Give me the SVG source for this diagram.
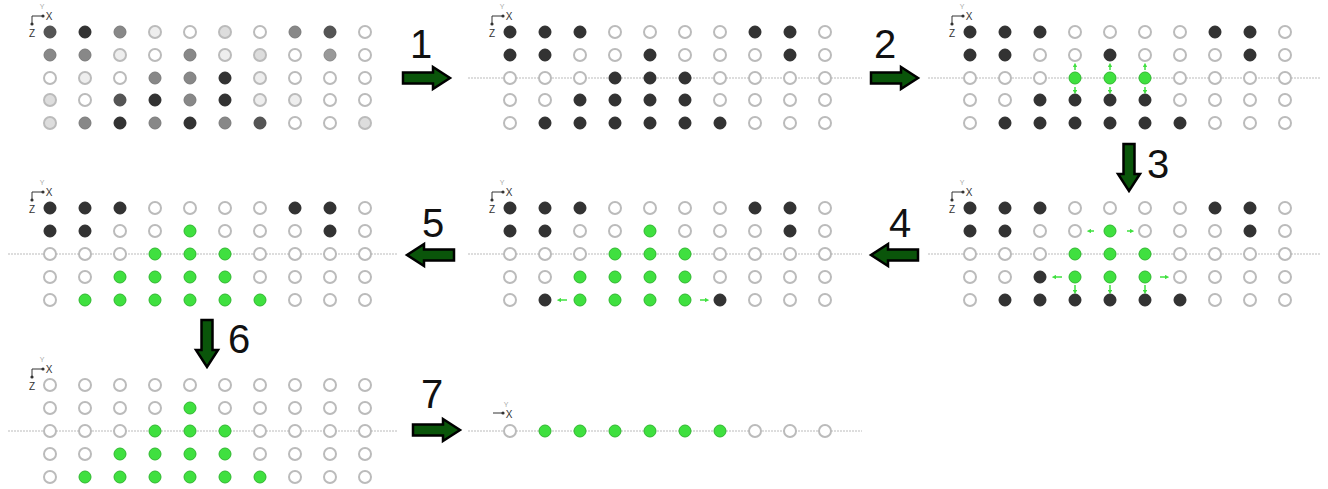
<svg xmlns="http://www.w3.org/2000/svg" width="1328" height="489" viewBox="0 0 1328 489">
<style>
circle{stroke-width:2}
.e{fill:#fff;stroke:#bbb}
.k{fill:#333;stroke:#2a2a2a;stroke-width:1}
.g{fill:#3fe03f;stroke:#2fb82f;stroke-width:1}
.s5{fill:#555;stroke:#4a4a4a;stroke-width:1}
.s8{fill:#888;stroke:#7a7a7a;stroke-width:1}
.s9{fill:#999;stroke:#888;stroke-width:1}
.sd{fill:#ddd;stroke:#bbb}
.se{fill:#eee;stroke:#bbb}
.axis{stroke:#333;stroke-width:1;fill:none}
.ax{font-family:"Liberation Sans",Arial,sans-serif;font-size:10px;fill:#333;text-anchor:middle}
.ay{font-family:"Liberation Sans",Arial,sans-serif;font-size:7px;fill:#aaa;text-anchor:middle}
.dot{fill:#333;stroke:none}
.guide{stroke:#bbb;stroke-width:1;stroke-dasharray:2 1}
.num{font-family:"Liberation Sans",Arial,sans-serif;font-size:40px;fill:#111;text-anchor:middle}
.big{fill:#0a550a;stroke:#000;stroke-width:2.5;stroke-linejoin:miter}
.sm{stroke:#3fe03f;stroke-width:1.5;fill:none;marker-end:url(#sa)}
</style>
<defs>
<marker id="sa" viewBox="0 0 6 6" refX="3" refY="3" markerWidth="3" markerHeight="3" orient="auto"><path d="M0,0 L6,3 L0,6 Z" fill="#3fe03f"/></marker>
<path id="bigArrow" d="M-23,-5.5 L7,-5.5 L7,-11 L24,0 L7,11 L7,5.5 L-23,5.5 Z"/>
<g id="axes">
<path class="axis" d="M-18,-8 V-16 H-7"/>
<circle class="dot" cx="-18" cy="-8" r="1.6"/>
<circle class="dot" cx="-7" cy="-16" r="1.6"/>
<text class="ax" x="-1" y="-12">X</text>
<text class="ax" x="-18" y="5">Z</text>
<text class="ay" x="-8" y="-23">Y</text>
</g>
</defs>
<rect width="1328" height="489" fill="#fff"/>

<g id="connectors">
<use href="#bigArrow" class="big" transform="translate(426,78)"/>
<text class="num" x="421" y="58">1</text>
<use href="#bigArrow" class="big" transform="translate(894,78)"/>
<text class="num" x="885" y="58">2</text>
<use href="#bigArrow" class="big" transform="translate(1129,167) rotate(90)"/>
<text class="num" x="1158" y="178">3</text>
<use href="#bigArrow" class="big" transform="translate(895,255) rotate(180)"/>
<text class="num" x="900" y="237">4</text>
<use href="#bigArrow" class="big" transform="translate(431,255) rotate(180)"/>
<text class="num" x="433" y="237">5</text>
<use href="#bigArrow" class="big" transform="translate(207,343) rotate(90)"/>
<text class="num" x="239" y="353">6</text>
<use href="#bigArrow" class="big" transform="translate(436,430)"/>
<text class="num" x="432" y="408">7</text>
</g>

<g id="panel1">
<use href="#axes" transform="translate(50,32)"/>
<g transform="translate(50,32)">
<circle class="s5" cx="0" cy="0" r="6"/><circle class="k" cx="35" cy="0" r="6"/><circle class="s8" cx="70" cy="0" r="6"/><circle class="se" cx="105" cy="0" r="6"/><circle class="e" cx="140" cy="0" r="6"/><circle class="sd" cx="175" cy="0" r="6"/><circle class="e" cx="210" cy="0" r="6"/><circle class="s8" cx="245" cy="0" r="6"/><circle class="s5" cx="280" cy="0" r="6"/><circle class="e" cx="315" cy="0" r="6"/>
<circle class="s8" cx="0" cy="23" r="6"/><circle class="s8" cx="35" cy="23" r="6"/><circle class="se" cx="70" cy="23" r="6"/><circle class="e" cx="105" cy="23" r="6"/><circle class="s8" cx="140" cy="23" r="6"/><circle class="se" cx="175" cy="23" r="6"/><circle class="sd" cx="210" cy="23" r="6"/><circle class="e" cx="245" cy="23" r="6"/><circle class="s9" cx="280" cy="23" r="6"/><circle class="e" cx="315" cy="23" r="6"/>
<circle class="e" cx="0" cy="46" r="6"/><circle class="se" cx="35" cy="46" r="6"/><circle class="e" cx="70" cy="46" r="6"/><circle class="s8" cx="105" cy="46" r="6"/><circle class="s8" cx="140" cy="46" r="6"/><circle class="k" cx="175" cy="46" r="6"/><circle class="se" cx="210" cy="46" r="6"/><circle class="e" cx="245" cy="46" r="6"/><circle class="e" cx="280" cy="46" r="6"/><circle class="e" cx="315" cy="46" r="6"/>
<circle class="sd" cx="0" cy="68" r="6"/><circle class="e" cx="35" cy="68" r="6"/><circle class="s5" cx="70" cy="68" r="6"/><circle class="k" cx="105" cy="68" r="6"/><circle class="s8" cx="140" cy="68" r="6"/><circle class="k" cx="175" cy="68" r="6"/><circle class="se" cx="210" cy="68" r="6"/><circle class="se" cx="245" cy="68" r="6"/><circle class="e" cx="280" cy="68" r="6"/><circle class="e" cx="315" cy="68" r="6"/>
<circle class="sd" cx="0" cy="91" r="6"/><circle class="s8" cx="35" cy="91" r="6"/><circle class="k" cx="70" cy="91" r="6"/><circle class="s8" cx="105" cy="91" r="6"/><circle class="k" cx="140" cy="91" r="6"/><circle class="s8" cx="175" cy="91" r="6"/><circle class="s5" cx="210" cy="91" r="6"/><circle class="e" cx="245" cy="91" r="6"/><circle class="e" cx="280" cy="91" r="6"/><circle class="sd" cx="315" cy="91" r="6"/>
</g>
</g>

<g id="panel2">
<line class="guide" x1="468" y1="78" x2="862" y2="78"/>
<use href="#axes" transform="translate(510,32)"/>
<g transform="translate(510,32)">
<circle class="k" cx="0" cy="0" r="6"/><circle class="k" cx="35" cy="0" r="6"/><circle class="k" cx="70" cy="0" r="6"/><circle class="e" cx="105" cy="0" r="6"/><circle class="e" cx="140" cy="0" r="6"/><circle class="e" cx="175" cy="0" r="6"/><circle class="e" cx="210" cy="0" r="6"/><circle class="k" cx="245" cy="0" r="6"/><circle class="k" cx="280" cy="0" r="6"/><circle class="e" cx="315" cy="0" r="6"/>
<circle class="k" cx="0" cy="23" r="6"/><circle class="k" cx="35" cy="23" r="6"/><circle class="e" cx="70" cy="23" r="6"/><circle class="e" cx="105" cy="23" r="6"/><circle class="k" cx="140" cy="23" r="6"/><circle class="e" cx="175" cy="23" r="6"/><circle class="e" cx="210" cy="23" r="6"/><circle class="e" cx="245" cy="23" r="6"/><circle class="k" cx="280" cy="23" r="6"/><circle class="e" cx="315" cy="23" r="6"/>
<circle class="e" cx="0" cy="46" r="6"/><circle class="e" cx="35" cy="46" r="6"/><circle class="e" cx="70" cy="46" r="6"/><circle class="k" cx="105" cy="46" r="6"/><circle class="k" cx="140" cy="46" r="6"/><circle class="k" cx="175" cy="46" r="6"/><circle class="e" cx="210" cy="46" r="6"/><circle class="e" cx="245" cy="46" r="6"/><circle class="e" cx="280" cy="46" r="6"/><circle class="e" cx="315" cy="46" r="6"/>
<circle class="e" cx="0" cy="68" r="6"/><circle class="e" cx="35" cy="68" r="6"/><circle class="k" cx="70" cy="68" r="6"/><circle class="k" cx="105" cy="68" r="6"/><circle class="k" cx="140" cy="68" r="6"/><circle class="k" cx="175" cy="68" r="6"/><circle class="e" cx="210" cy="68" r="6"/><circle class="e" cx="245" cy="68" r="6"/><circle class="e" cx="280" cy="68" r="6"/><circle class="e" cx="315" cy="68" r="6"/>
<circle class="e" cx="0" cy="91" r="6"/><circle class="k" cx="35" cy="91" r="6"/><circle class="k" cx="70" cy="91" r="6"/><circle class="k" cx="105" cy="91" r="6"/><circle class="k" cx="140" cy="91" r="6"/><circle class="k" cx="175" cy="91" r="6"/><circle class="k" cx="210" cy="91" r="6"/><circle class="e" cx="245" cy="91" r="6"/><circle class="e" cx="280" cy="91" r="6"/><circle class="e" cx="315" cy="91" r="6"/>
</g>
</g>

<g id="panel3">
<line class="guide" x1="928" y1="78" x2="1320" y2="78"/>
<use href="#axes" transform="translate(970,32)"/>
<g transform="translate(970,32)">
<circle class="k" cx="0" cy="0" r="6"/><circle class="k" cx="35" cy="0" r="6"/><circle class="k" cx="70" cy="0" r="6"/><circle class="e" cx="105" cy="0" r="6"/><circle class="e" cx="140" cy="0" r="6"/><circle class="e" cx="175" cy="0" r="6"/><circle class="e" cx="210" cy="0" r="6"/><circle class="k" cx="245" cy="0" r="6"/><circle class="k" cx="280" cy="0" r="6"/><circle class="e" cx="315" cy="0" r="6"/>
<circle class="k" cx="0" cy="23" r="6"/><circle class="k" cx="35" cy="23" r="6"/><circle class="e" cx="70" cy="23" r="6"/><circle class="e" cx="105" cy="23" r="6"/><circle class="k" cx="140" cy="23" r="6"/><circle class="e" cx="175" cy="23" r="6"/><circle class="e" cx="210" cy="23" r="6"/><circle class="e" cx="245" cy="23" r="6"/><circle class="k" cx="280" cy="23" r="6"/><circle class="e" cx="315" cy="23" r="6"/>
<circle class="e" cx="0" cy="46" r="6"/><circle class="e" cx="35" cy="46" r="6"/><circle class="e" cx="70" cy="46" r="6"/><circle class="g" cx="105" cy="46" r="6"/><circle class="g" cx="140" cy="46" r="6"/><circle class="g" cx="175" cy="46" r="6"/><circle class="e" cx="210" cy="46" r="6"/><circle class="e" cx="245" cy="46" r="6"/><circle class="e" cx="280" cy="46" r="6"/><circle class="e" cx="315" cy="46" r="6"/>
<circle class="e" cx="0" cy="68" r="6"/><circle class="e" cx="35" cy="68" r="6"/><circle class="k" cx="70" cy="68" r="6"/><circle class="k" cx="105" cy="68" r="6"/><circle class="k" cx="140" cy="68" r="6"/><circle class="k" cx="175" cy="68" r="6"/><circle class="e" cx="210" cy="68" r="6"/><circle class="e" cx="245" cy="68" r="6"/><circle class="e" cx="280" cy="68" r="6"/><circle class="e" cx="315" cy="68" r="6"/>
<circle class="e" cx="0" cy="91" r="6"/><circle class="k" cx="35" cy="91" r="6"/><circle class="k" cx="70" cy="91" r="6"/><circle class="k" cx="105" cy="91" r="6"/><circle class="k" cx="140" cy="91" r="6"/><circle class="k" cx="175" cy="91" r="6"/><circle class="k" cx="210" cy="91" r="6"/><circle class="e" cx="245" cy="91" r="6"/><circle class="e" cx="280" cy="91" r="6"/><circle class="e" cx="315" cy="91" r="6"/>
<path class="sm" d="M105,38 V33"/><path class="sm" d="M140,38 V33"/><path class="sm" d="M175,38 V33"/>
<path class="sm" d="M105,55 V60"/><path class="sm" d="M140,55 V60"/><path class="sm" d="M175,55 V60"/>
</g>
</g>

<g id="panel4">
<line class="guide" x1="928" y1="254" x2="1320" y2="254"/>
<use href="#axes" transform="translate(970,208)"/>
<g transform="translate(970,208)">
<circle class="k" cx="0" cy="0" r="6"/><circle class="k" cx="35" cy="0" r="6"/><circle class="k" cx="70" cy="0" r="6"/><circle class="e" cx="105" cy="0" r="6"/><circle class="e" cx="140" cy="0" r="6"/><circle class="e" cx="175" cy="0" r="6"/><circle class="e" cx="210" cy="0" r="6"/><circle class="k" cx="245" cy="0" r="6"/><circle class="k" cx="280" cy="0" r="6"/><circle class="e" cx="315" cy="0" r="6"/>
<circle class="k" cx="0" cy="23" r="6"/><circle class="k" cx="35" cy="23" r="6"/><circle class="e" cx="70" cy="23" r="6"/><circle class="e" cx="105" cy="23" r="6"/><circle class="g" cx="140" cy="23" r="6"/><circle class="e" cx="175" cy="23" r="6"/><circle class="e" cx="210" cy="23" r="6"/><circle class="e" cx="245" cy="23" r="6"/><circle class="k" cx="280" cy="23" r="6"/><circle class="e" cx="315" cy="23" r="6"/>
<circle class="e" cx="0" cy="46" r="6"/><circle class="e" cx="35" cy="46" r="6"/><circle class="e" cx="70" cy="46" r="6"/><circle class="g" cx="105" cy="46" r="6"/><circle class="g" cx="140" cy="46" r="6"/><circle class="g" cx="175" cy="46" r="6"/><circle class="e" cx="210" cy="46" r="6"/><circle class="e" cx="245" cy="46" r="6"/><circle class="e" cx="280" cy="46" r="6"/><circle class="e" cx="315" cy="46" r="6"/>
<circle class="e" cx="0" cy="69" r="6"/><circle class="e" cx="35" cy="69" r="6"/><circle class="k" cx="70" cy="69" r="6"/><circle class="g" cx="105" cy="69" r="6"/><circle class="g" cx="140" cy="69" r="6"/><circle class="g" cx="175" cy="69" r="6"/><circle class="e" cx="210" cy="69" r="6"/><circle class="e" cx="245" cy="69" r="6"/><circle class="e" cx="280" cy="69" r="6"/><circle class="e" cx="315" cy="69" r="6"/>
<circle class="e" cx="0" cy="92" r="6"/><circle class="k" cx="35" cy="92" r="6"/><circle class="k" cx="70" cy="92" r="6"/><circle class="k" cx="105" cy="92" r="6"/><circle class="k" cx="140" cy="92" r="6"/><circle class="k" cx="175" cy="92" r="6"/><circle class="k" cx="210" cy="92" r="6"/><circle class="e" cx="245" cy="92" r="6"/><circle class="e" cx="280" cy="92" r="6"/><circle class="e" cx="315" cy="92" r="6"/>
<path class="sm" d="M124,23 H119"/><path class="sm" d="M157,23 H162"/>
<path class="sm" d="M92,69 H84"/><path class="sm" d="M190,69 H197"/>
<path class="sm" d="M105,77 V84"/><path class="sm" d="M140,77 V84"/><path class="sm" d="M175,77 V84"/>
</g>
</g>

<g id="panel5">
<line class="guide" x1="468" y1="254" x2="862" y2="254"/>
<use href="#axes" transform="translate(510,208)"/>
<g transform="translate(510,208)">
<circle class="k" cx="0" cy="0" r="6"/><circle class="k" cx="35" cy="0" r="6"/><circle class="k" cx="70" cy="0" r="6"/><circle class="e" cx="105" cy="0" r="6"/><circle class="e" cx="140" cy="0" r="6"/><circle class="e" cx="175" cy="0" r="6"/><circle class="e" cx="210" cy="0" r="6"/><circle class="k" cx="245" cy="0" r="6"/><circle class="k" cx="280" cy="0" r="6"/><circle class="e" cx="315" cy="0" r="6"/>
<circle class="k" cx="0" cy="23" r="6"/><circle class="k" cx="35" cy="23" r="6"/><circle class="e" cx="70" cy="23" r="6"/><circle class="e" cx="105" cy="23" r="6"/><circle class="g" cx="140" cy="23" r="6"/><circle class="e" cx="175" cy="23" r="6"/><circle class="e" cx="210" cy="23" r="6"/><circle class="e" cx="245" cy="23" r="6"/><circle class="k" cx="280" cy="23" r="6"/><circle class="e" cx="315" cy="23" r="6"/>
<circle class="e" cx="0" cy="46" r="6"/><circle class="e" cx="35" cy="46" r="6"/><circle class="e" cx="70" cy="46" r="6"/><circle class="g" cx="105" cy="46" r="6"/><circle class="g" cx="140" cy="46" r="6"/><circle class="g" cx="175" cy="46" r="6"/><circle class="e" cx="210" cy="46" r="6"/><circle class="e" cx="245" cy="46" r="6"/><circle class="e" cx="280" cy="46" r="6"/><circle class="e" cx="315" cy="46" r="6"/>
<circle class="e" cx="0" cy="69" r="6"/><circle class="e" cx="35" cy="69" r="6"/><circle class="g" cx="70" cy="69" r="6"/><circle class="g" cx="105" cy="69" r="6"/><circle class="g" cx="140" cy="69" r="6"/><circle class="g" cx="175" cy="69" r="6"/><circle class="e" cx="210" cy="69" r="6"/><circle class="e" cx="245" cy="69" r="6"/><circle class="e" cx="280" cy="69" r="6"/><circle class="e" cx="315" cy="69" r="6"/>
<circle class="e" cx="0" cy="92" r="6"/><circle class="k" cx="35" cy="92" r="6"/><circle class="g" cx="70" cy="92" r="6"/><circle class="g" cx="105" cy="92" r="6"/><circle class="g" cx="140" cy="92" r="6"/><circle class="g" cx="175" cy="92" r="6"/><circle class="k" cx="210" cy="92" r="6"/><circle class="e" cx="245" cy="92" r="6"/><circle class="e" cx="280" cy="92" r="6"/><circle class="e" cx="315" cy="92" r="6"/>
<path class="sm" d="M57,92 H49"/><path class="sm" d="M190,92 H197"/>
</g>
</g>

<g id="panel6">
<line class="guide" x1="8" y1="254" x2="398" y2="254"/>
<use href="#axes" transform="translate(50,208)"/>
<g transform="translate(50,208)">
<circle class="k" cx="0" cy="0" r="6"/><circle class="k" cx="35" cy="0" r="6"/><circle class="k" cx="70" cy="0" r="6"/><circle class="e" cx="105" cy="0" r="6"/><circle class="e" cx="140" cy="0" r="6"/><circle class="e" cx="175" cy="0" r="6"/><circle class="e" cx="210" cy="0" r="6"/><circle class="k" cx="245" cy="0" r="6"/><circle class="k" cx="280" cy="0" r="6"/><circle class="e" cx="315" cy="0" r="6"/>
<circle class="k" cx="0" cy="23" r="6"/><circle class="k" cx="35" cy="23" r="6"/><circle class="e" cx="70" cy="23" r="6"/><circle class="e" cx="105" cy="23" r="6"/><circle class="g" cx="140" cy="23" r="6"/><circle class="e" cx="175" cy="23" r="6"/><circle class="e" cx="210" cy="23" r="6"/><circle class="e" cx="245" cy="23" r="6"/><circle class="k" cx="280" cy="23" r="6"/><circle class="e" cx="315" cy="23" r="6"/>
<circle class="e" cx="0" cy="46" r="6"/><circle class="e" cx="35" cy="46" r="6"/><circle class="e" cx="70" cy="46" r="6"/><circle class="g" cx="105" cy="46" r="6"/><circle class="g" cx="140" cy="46" r="6"/><circle class="g" cx="175" cy="46" r="6"/><circle class="e" cx="210" cy="46" r="6"/><circle class="e" cx="245" cy="46" r="6"/><circle class="e" cx="280" cy="46" r="6"/><circle class="e" cx="315" cy="46" r="6"/>
<circle class="e" cx="0" cy="69" r="6"/><circle class="e" cx="35" cy="69" r="6"/><circle class="g" cx="70" cy="69" r="6"/><circle class="g" cx="105" cy="69" r="6"/><circle class="g" cx="140" cy="69" r="6"/><circle class="g" cx="175" cy="69" r="6"/><circle class="e" cx="210" cy="69" r="6"/><circle class="e" cx="245" cy="69" r="6"/><circle class="e" cx="280" cy="69" r="6"/><circle class="e" cx="315" cy="69" r="6"/>
<circle class="e" cx="0" cy="92" r="6"/><circle class="g" cx="35" cy="92" r="6"/><circle class="g" cx="70" cy="92" r="6"/><circle class="g" cx="105" cy="92" r="6"/><circle class="g" cx="140" cy="92" r="6"/><circle class="g" cx="175" cy="92" r="6"/><circle class="g" cx="210" cy="92" r="6"/><circle class="e" cx="245" cy="92" r="6"/><circle class="e" cx="280" cy="92" r="6"/><circle class="e" cx="315" cy="92" r="6"/>
</g>
</g>

<g id="panel7">
<line class="guide" x1="8" y1="431" x2="398" y2="431"/>
<use href="#axes" transform="translate(50,385)"/>
<g transform="translate(50,385)">
<circle class="e" cx="0" cy="0" r="6"/><circle class="e" cx="35" cy="0" r="6"/><circle class="e" cx="70" cy="0" r="6"/><circle class="e" cx="105" cy="0" r="6"/><circle class="e" cx="140" cy="0" r="6"/><circle class="e" cx="175" cy="0" r="6"/><circle class="e" cx="210" cy="0" r="6"/><circle class="e" cx="245" cy="0" r="6"/><circle class="e" cx="280" cy="0" r="6"/><circle class="e" cx="315" cy="0" r="6"/>
<circle class="e" cx="0" cy="23" r="6"/><circle class="e" cx="35" cy="23" r="6"/><circle class="e" cx="70" cy="23" r="6"/><circle class="e" cx="105" cy="23" r="6"/><circle class="g" cx="140" cy="23" r="6"/><circle class="e" cx="175" cy="23" r="6"/><circle class="e" cx="210" cy="23" r="6"/><circle class="e" cx="245" cy="23" r="6"/><circle class="e" cx="280" cy="23" r="6"/><circle class="e" cx="315" cy="23" r="6"/>
<circle class="e" cx="0" cy="46" r="6"/><circle class="e" cx="35" cy="46" r="6"/><circle class="e" cx="70" cy="46" r="6"/><circle class="g" cx="105" cy="46" r="6"/><circle class="g" cx="140" cy="46" r="6"/><circle class="g" cx="175" cy="46" r="6"/><circle class="e" cx="210" cy="46" r="6"/><circle class="e" cx="245" cy="46" r="6"/><circle class="e" cx="280" cy="46" r="6"/><circle class="e" cx="315" cy="46" r="6"/>
<circle class="e" cx="0" cy="69" r="6"/><circle class="e" cx="35" cy="69" r="6"/><circle class="g" cx="70" cy="69" r="6"/><circle class="g" cx="105" cy="69" r="6"/><circle class="g" cx="140" cy="69" r="6"/><circle class="g" cx="175" cy="69" r="6"/><circle class="e" cx="210" cy="69" r="6"/><circle class="e" cx="245" cy="69" r="6"/><circle class="e" cx="280" cy="69" r="6"/><circle class="e" cx="315" cy="69" r="6"/>
<circle class="e" cx="0" cy="92" r="6"/><circle class="g" cx="35" cy="92" r="6"/><circle class="g" cx="70" cy="92" r="6"/><circle class="g" cx="105" cy="92" r="6"/><circle class="g" cx="140" cy="92" r="6"/><circle class="g" cx="175" cy="92" r="6"/><circle class="g" cx="210" cy="92" r="6"/><circle class="e" cx="245" cy="92" r="6"/><circle class="e" cx="280" cy="92" r="6"/><circle class="e" cx="315" cy="92" r="6"/>
</g>
</g>

<g id="panel8">
<line class="guide" x1="468" y1="431" x2="862" y2="431"/>
<g transform="translate(510,431)">
<path class="axis" d="M-17,-18 H-7"/>
<circle class="dot" cx="-7" cy="-18" r="1.6"/>
<text class="ax" x="-1" y="-13">X</text>
<text class="ay" x="-4" y="-24">Y</text>
<circle class="e" cx="0" cy="0" r="6"/><circle class="g" cx="35" cy="0" r="6"/><circle class="g" cx="70" cy="0" r="6"/><circle class="g" cx="105" cy="0" r="6"/><circle class="g" cx="140" cy="0" r="6"/><circle class="g" cx="175" cy="0" r="6"/><circle class="g" cx="210" cy="0" r="6"/><circle class="e" cx="245" cy="0" r="6"/><circle class="e" cx="280" cy="0" r="6"/><circle class="e" cx="315" cy="0" r="6"/>
</g>
</g>
</svg>
